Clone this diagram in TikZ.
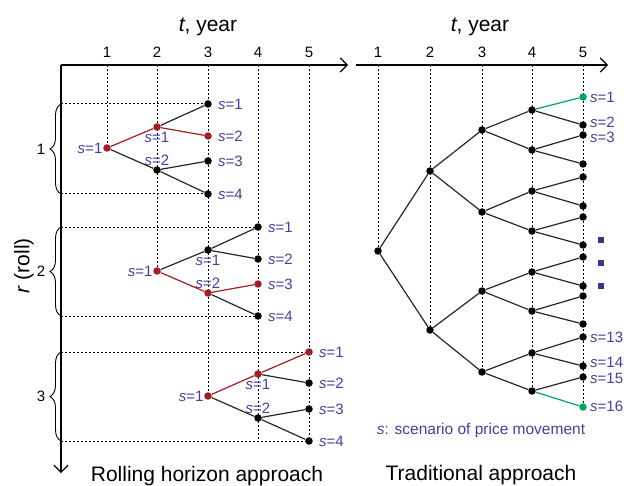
\documentclass[tikz,border=0pt]{standalone}
\usepackage{fontspec}
\setmainfont{Liberation Sans}
\usetikzlibrary{arrows.meta,decorations.pathreplacing}
\definecolor{sblue}{RGB}{72,60,165}
\definecolor{dred}{RGB}{160,30,36}
\definecolor{dgreen}{RGB}{0,166,90}
\pgfdeclarelayer{bg}
\pgfsetlayers{bg,main}
\begin{document}
\begin{tikzpicture}[x=1pt,y=-1pt,
  dot/.style={circle,fill=black,inner sep=0pt,minimum size=7.5pt},
  rdot/.style={dot,fill=dred},
  gdot/.style={dot,fill=dgreen},
  gridline/.style={dash pattern=on 2pt off 2pt,line width=1pt},
  edge/.style={line width=1.2pt,draw=black!85},
  redge/.style={line width=1.2pt,draw=dred},
  gedge/.style={line width=1.2pt,draw=dgreen},
  axis/.style={line width=1.2pt,-{Straight Barb[length=7pt,width=14pt]}},
  slab/.style={text=sblue,font=\fontsize{15}{17}\selectfont,inner sep=0pt},
  tick/.style={font=\fontsize{15}{17}\selectfont,inner sep=0pt,anchor=base},
  title/.style={font=\fontsize{21}{25}\selectfont,inner sep=0pt},
  brc/.style={decorate,decoration={brace,amplitude=11pt},line width=0.9pt},
  sq/.style={fill=sblue!85!black,inner sep=0pt,minimum size=6pt,rectangle}
]
\useasboundingbox (0,0) rectangle (628,486);

% ---------------- LEFT PANEL ----------------
\coordinate (O) at (61,65);
\coordinate (Xend) at (348,65);
\coordinate (Yend) at (61,473);
\draw[axis] (O) -- (Xend);
\draw[axis] (O) -- (Yend);
\node[title,anchor=base] (tyl) at (208,32) {\textit{t}, year};
\foreach \k/\x in {1/107,2/157,3/208,4/258,5/309}{
  \node[tick] (tl\k) at (\x,58) {\k};
  \coordinate (L\k) at (\x,65);
}
\node[title,rotate=90] (rlab) at (24,266) {\textit{r} (roll)};

% roll 1
\node[rdot] (a1) at (107,148) {};
\node[rdot] (a2) at (157,127) {};
\node[dot]  (a3) at (157,170) {};
\node[dot]  (a4) at (208,104) {};
\node[rdot] (a5) at (208,136) {};
\node[dot]  (a6) at (208,161) {};
\node[dot]  (a7) at (208,194) {};
% roll 2
\node[rdot] (b1) at (157,271) {};
\node[dot]  (b2) at (208,250) {};
\node[rdot] (b3) at (208,293) {};
\node[dot]  (b4) at (258,227) {};
\node[dot]  (b5) at (258,259) {};
\node[rdot] (b6) at (258,284) {};
\node[dot]  (b7) at (258,316) {};
% roll 3
\node[rdot] (c1) at (208,396) {};
\node[rdot] (c2) at (258,374) {};
\node[dot]  (c3) at (258,418) {};
\node[rdot] (c4) at (309,352) {};
\node[dot]  (c5) at (309,383) {};
\node[dot]  (c6) at (309,409) {};
\node[dot]  (c7) at (309,441) {};
\coordinate (L4end) at (258,441);

\coordinate (H1) at (61,104);
\coordinate (H2) at (61,194);
\coordinate (H3) at (61,227);
\coordinate (H4) at (61,316);
\coordinate (H5) at (61,352);
\coordinate (H6) at (61,441);

\begin{pgfonlayer}{bg}
  \draw[gridline] (L1) -- (a1.center);
  \draw[gridline] (L2) -- (b1.center);
  \draw[gridline] (L3) -- (c1.center);
  \draw[gridline] (L4) -- (L4end);
  \draw[gridline] (L5) -- (c7.center);
  \draw[gridline] (H1) -- (a4.center);
  \draw[gridline] (H2) -- (a7.center);
  \draw[gridline] (H3) -- (b4.center);
  \draw[gridline] (H4) -- (b7.center);
  \draw[gridline] (H5) -- (c4.center);
  \draw[gridline] (H6) -- (c7.center);
  % edges roll 1
  \draw[redge] (a1) -- (a2);
  \draw[redge] (a2) -- (a5);
  \draw[edge] (a1) -- (a3);
  \draw[edge] (a2) -- (a4);
  \draw[edge] (a3) -- (a6);
  \draw[edge] (a3) -- (a7);
  % edges roll 2
  \draw[edge] (b1) -- (b2);
  \draw[redge] (b1) -- (b3);
  \draw[edge] (b2) -- (b4);
  \draw[edge] (b2) -- (b5);
  \draw[redge] (b3) -- (b6);
  \draw[edge] (b3) -- (b7);
  % edges roll 3
  \draw[redge] (c1) -- (c2);
  \draw[redge] (c2) -- (c4);
  \draw[edge] (c1) -- (c3);
  \draw[edge] (c2) -- (c5);
  \draw[edge] (c3) -- (c6);
  \draw[edge] (c3) -- (c7);
\end{pgfonlayer}

% braces
\draw[brc] (H2) -- (H1);
\draw[brc] (H4) -- (H3);
\draw[brc] (H6) -- (H5);
\node[tick,anchor=center] (r1) at (41,149) {1};
\node[tick,anchor=center] (r2) at (41,271) {2};
\node[tick,anchor=center] (r3) at (41,396) {3};

% labels roll 1
\node[slab,anchor=east] (la1) at ([xshift=-0.5pt]a1.west) {\textit{s}=1};
\node[slab] (la2) at ([yshift=-10.5pt]a2.center) {\textit{s}=1};
\node[slab] (la3) at ([yshift=10pt]a3.center) {\textit{s}=2};
\node[slab,anchor=west] (la4) at ([xshift=6pt]a4.east) {\textit{s}=1};
\node[slab,anchor=west] (la5) at ([xshift=6pt]a5.east) {\textit{s}=2};
\node[slab,anchor=west] (la6) at ([xshift=6pt]a6.east) {\textit{s}=3};
\node[slab,anchor=west] (la7) at ([xshift=6pt]a7.east) {\textit{s}=4};
% labels roll 2
\node[slab,anchor=east] (lb1) at ([xshift=-0.5pt]b1.west) {\textit{s}=1};
\node[slab] (lb2) at ([yshift=-10.5pt]b2.center) {\textit{s}=1};
\node[slab] (lb3) at ([yshift=10pt]b3.center) {\textit{s}=2};
\node[slab,anchor=west] (lb4) at ([xshift=6pt]b4.east) {\textit{s}=1};
\node[slab,anchor=west] (lb5) at ([xshift=6pt]b5.east) {\textit{s}=2};
\node[slab,anchor=west] (lb6) at ([xshift=6pt]b6.east) {\textit{s}=3};
\node[slab,anchor=west] (lb7) at ([xshift=6pt]b7.east) {\textit{s}=4};
% labels roll 3
\node[slab,anchor=east] (lc1) at ([xshift=-0.5pt]c1.west) {\textit{s}=1};
\node[slab] (lc2) at ([yshift=-10.5pt]c2.center) {\textit{s}=1};
\node[slab] (lc3) at ([yshift=10pt]c3.center) {\textit{s}=2};
\node[slab,anchor=west] (lc4) at ([xshift=6pt]c4.east) {\textit{s}=1};
\node[slab,anchor=west] (lc5) at ([xshift=6pt]c5.east) {\textit{s}=2};
\node[slab,anchor=west] (lc6) at ([xshift=6pt]c6.east) {\textit{s}=3};
\node[slab,anchor=west] (lc7) at ([xshift=6pt]c7.east) {\textit{s}=4};

\node[title,anchor=base] (ttl) at (207,481) {Rolling horizon approach};

% ---------------- RIGHT PANEL ----------------
\coordinate (O2) at (356,65);
\coordinate (X2end) at (608,65);
\draw[axis] (O2) -- (X2end);
\node[title,anchor=base] (tyr) at (480,32) {\textit{t}, year};
\foreach \k/\x in {1/378,2/430,3/482,4/532,5/583}{
  \node[tick] (tr\k) at (\x,58) {\k};
  \coordinate (R\k) at (\x,65);
}

\node[dot] (t11) at (378,251) {};
\node[dot] (t21) at (430,171) {};
\node[dot] (t22) at (430,330) {};
\foreach \y [count=\i] in {130,212,291,372}{ \node[dot] (t3\i) at (482,\y) {}; }
\foreach \y [count=\i] in {110,150,191,231,272,311,353,391}{ \node[dot] (t4\i) at (532,\y) {}; }
\foreach \y [count=\i] in {97,125,135,164,177,206,217,245,257,286,296,324,337,366,377,407}{
  \ifnum\i=1 \node[gdot] (t5\i) at (583,\y) {};
  \else\ifnum\i=16 \node[gdot] (t5\i) at (583,\y) {};
  \else \node[dot] (t5\i) at (583,\y) {};
  \fi\fi
}

\begin{pgfonlayer}{bg}
  \draw[gridline] (R1) -- (t11.center);
  \draw[gridline] (R2) -- (t22.center);
  \draw[gridline] (R3) -- (t34.center);
  \draw[gridline] (R4) -- (t48.center);
  \draw[gridline] (R5) -- (t516.center);
  \draw[edge] (t11) -- (t21);
  \draw[edge] (t11) -- (t22);
  \draw[edge] (t21) -- (t31);
  \draw[edge] (t21) -- (t32);
  \draw[edge] (t22) -- (t33);
  \draw[edge] (t22) -- (t34);
  \foreach \p/\c in {1/1,1/2,2/3,2/4,3/5,3/6,4/7,4/8}{ \draw[edge] (t3\p) -- (t4\c); }
  \foreach \p/\c in {1/2,2/3,2/4,3/5,3/6,4/7,4/8,5/9,5/10,6/11,6/12,7/13,7/14,8/15}{ \draw[edge] (t4\p) -- (t5\c); }
  \draw[gedge] (t41) -- (t51);
  \draw[gedge] (t48) -- (t516);
\end{pgfonlayer}

\node[slab,anchor=west] (ls1) at (590,97) {\textit{s}=1};
\node[slab,anchor=west] (ls2) at (590,122) {\textit{s}=2};
\node[slab,anchor=west] (ls3) at (590,137) {\textit{s}=3};
\node[slab,anchor=west] (ls13) at (590,337) {\textit{s}=13};
\node[slab,anchor=west] (ls14) at (590,362) {\textit{s}=14};
\node[slab,anchor=west] (ls15) at (590,378) {\textit{s}=15};
\node[slab,anchor=west] (ls16) at (590,406) {\textit{s}=16};

\node[sq] (q1) at (601,240) {};
\node[sq] (q2) at (601,263) {};
\node[sq] (q3) at (601,286) {};

\node[text=sblue,font=\fontsize{15.5}{18}\selectfont,inner sep=0pt] (cap) at (481,430) {\textit{s}: scenario of price movement};
\node[title,anchor=base] (ttr) at (481,480) {Traditional approach};
\end{tikzpicture}
\end{document}
